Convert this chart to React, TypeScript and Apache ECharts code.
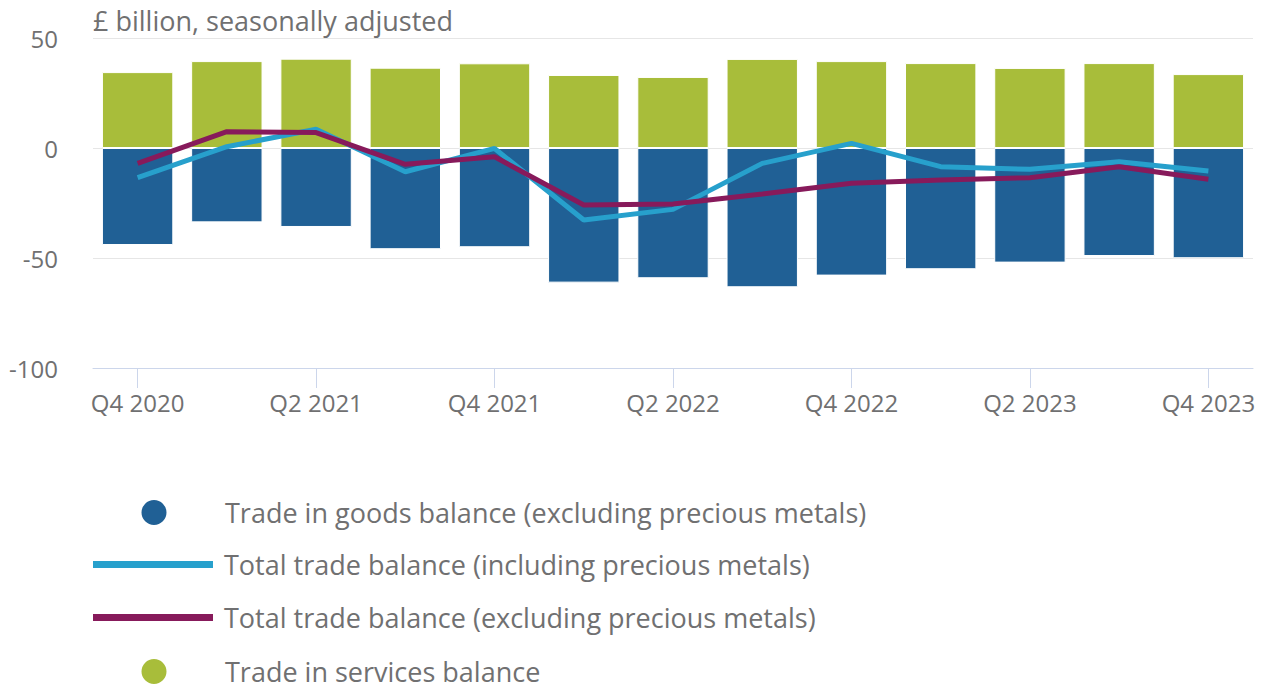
import React, { useEffect, useRef } from "react";
import * as echarts from "echarts";

const categories = [
  "Q4 2020", "Q1 2021", "Q2 2021", "Q3 2021", "Q4 2021", "Q1 2022", "Q2 2022",
  "Q3 2022", "Q4 2022", "Q1 2023", "Q2 2023", "Q3 2023", "Q4 2023",
];
const goodsBalance = [-44.1, -33.8, -35.9, -46.0, -45.1, -61.2, -59.2, -63.3, -58.0, -55.1, -52.1, -49.1, -50.1];
const servicesBalance = [34.5, 39.5, 40.6, 36.5, 38.5, 33.2, 32.3, 40.5, 39.5, 38.6, 36.4, 38.6, 33.6];
const totalIncl = [-13.5, 0.6, 8.5, -10.8, -0.2, -32.7, -27.9, -7.0, 2.1, -8.5, -9.7, -6.2, -10.5];
const totalExcl = [-7.0, 7.4, 7.0, -7.4, -4.0, -25.9, -25.5, -20.9, -16.0, -14.5, -13.5, -8.5, -14.2];
const yTicks = { min: -100, max: 50, interval: 50 };

const names = {
  goods: "Trade in goods balance (excluding precious metals)",
  incl: "Total trade balance (including precious metals)",
  excl: "Total trade balance (excluding precious metals)",
  services: "Trade in services balance",
};

const colors = {
  goods: "#206095",
  incl: "#27a0cc",
  excl: "#871a5b",
  services: "#a8bd3a",
};

const FONT = "Open Sans";
const TEXT = "#707071";
const lineIcon = "path://M0,0H120V7H0Z";
const dotIcon = "path://M0,0M120,27M46.5,13.5A13.5,13.5,0,1,0,73.5,13.5A13.5,13.5,0,1,0,46.5,13.5Z";

const legendItems = [
  { name: names.goods, icon: dotIcon, h: 27 },
  { name: names.incl, icon: lineIcon, h: 7 },
  { name: names.excl, icon: lineIcon, h: 7 },
  { name: names.services, icon: dotIcon, h: 27 },
];

export default function App() {
  const ref = useRef<HTMLDivElement>(null);
  useEffect(() => {
    document.body.style.margin = "0";
    const chart = echarts.init(ref.current!, undefined, { renderer: "svg" });
    chart.setOption({
      animation: false,
      textStyle: { fontFamily: FONT },
      title: {
        text: "£ billion, seasonally adjusted",
        left: 88,
        top: 2,
        textStyle: { fontFamily: FONT, fontSize: 27, fontWeight: "normal", color: TEXT },
      },
      grid: { left: 93, right: 10, top: 38, bottom: 316, containLabel: false },
      xAxis: {
        type: "category",
        data: categories,
        axisLine: { onZero: false, lineStyle: { color: "#ccd6eb", width: 1 } },
        axisTick: { show: true, alignWithLabel: true, interval: 1, length: 20, lineStyle: { color: "#ccd6eb" } },
        axisLabel: { interval: 1, margin: 22, fontSize: 24, color: TEXT, fontFamily: FONT },
        splitLine: { show: false },
      },
      yAxis: {
        type: "value",
        min: yTicks.min,
        max: yTicks.max,
        interval: yTicks.interval,
        axisLine: { show: false },
        axisTick: { show: false },
        axisLabel: { fontSize: 24, color: TEXT, fontFamily: FONT, margin: 35 },
        splitLine: { lineStyle: { color: "#e6e6e6", width: 1 } },
      },
      legend: legendItems.map((item, i) => ({
        orient: "vertical",
        left: 93,
        top: 498 + i * 53,
        padding: 0,
        itemWidth: 120,
        itemHeight: 27,
        textStyle: { fontSize: 27, color: TEXT, fontFamily: FONT, padding: [0, 0, 0, 6] },
        data: [{ name: item.name, icon: item.icon }],
      })),
      series: [
        {
          name: names.goods,
          type: "bar",
          data: goodsBalance,
          barWidth: "80%",
          barGap: "-100%",
          itemStyle: { color: colors.goods, borderColor: "#ffffff", borderWidth: 1 },
          z: 2,
        },
        {
          name: names.services,
          type: "bar",
          data: servicesBalance,
          barWidth: "80%",
          barGap: "-100%",
          itemStyle: { color: colors.services, borderColor: "#ffffff", borderWidth: 1 },
          z: 2,
        },
        {
          name: names.incl,
          type: "line",
          data: totalIncl,
          symbol: "none",
          lineStyle: { color: colors.incl, width: 5 },
          itemStyle: { color: colors.incl },
          z: 5,
        },
        {
          name: names.excl,
          type: "line",
          data: totalExcl,
          symbol: "none",
          lineStyle: { color: colors.excl, width: 5 },
          itemStyle: { color: colors.excl },
          z: 6,
        },
      ],
    });
    return () => chart.dispose();
  }, []);
  return <div ref={ref} style={{ width: 1263, height: 684 }} />;
}
